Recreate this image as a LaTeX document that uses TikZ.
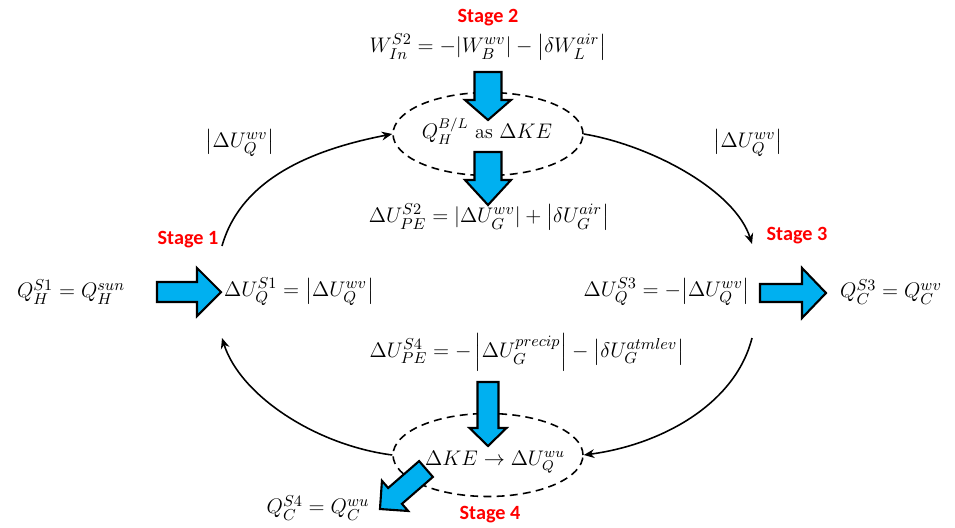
\documentclass[tikz,border=0pt]{standalone}
\usepackage{amsmath}
\usepackage{fontspec}
\newfontfamily\stagefont{Carlito}
\usetikzlibrary{
  arrows.meta,     % Stealth arrow tips
  shapes.geometric,% ellipse nodes
  positioning,
  calc
}
\definecolor{arrowblue}{RGB}{0,176,240}
\definecolor{stagered}{RGB}{255,0,0}

% block arrow: tail point, angle, length, head length, shaft half width, head half width
\newcommand{\fatarrow}[6]{%
  \draw[fat, shift={#1}, rotate=#2] (0,-#5) -- ({#3-#4},-#5) -- ({#3-#4},-#6) -- (#3,0)
    -- ({#3-#4},#6) -- ({#3-#4},#5) -- (0,#5) -- cycle;}

\begin{document}
\begin{tikzpicture}[>={Stealth[length=6pt,width=5pt]}, x=0.02cm, y=-0.02cm, % one unit = one pixel of the 955x527 sheet
  eq/.style={font=\fontsize{13}{15}\selectfont, inner sep=1pt},
  ineq/.style={font=\fontsize{11.5}{13}\selectfont, inner sep=1pt},
  stage/.style={text=stagered, font=\stagefont\bfseries\fontsize{11.5}{13}\selectfont, inner sep=1pt},
  cycleell/.style={draw, ellipse, dash pattern=on 4.5pt off 3pt, line width=0.9pt, minimum width=3.8cm, minimum height=1.66cm, inner sep=0pt},
  flow/.style={->, line width=0.9pt},
  fat/.style={draw=black, fill=arrowblue, line width=1.2pt, line join=miter}]

  \useasboundingbox (0,0) rectangle (955,527);

  % =============== dashed stage ellipses ===============
  \node[cycleell] (topell) at (488,134) {};
  \node[cycleell] (botell) at (488,455) {};

  % =============== blue block arrows ===============
  \fatarrow{(488,72)}{-90}{48}{20}{13.5}{23}
  \fatarrow{(488,152)}{-90}{53}{25}{13.5}{23}
  \fatarrow{(488,382)}{-90}{64}{18}{10.5}{18.5}
  \fatarrow{(157,292)}{0}{64}{24}{10}{24}
  \fatarrow{(760,293)}{0}{66}{24}{9}{25}
  \fatarrow{(426,469)}{221}{61}{20}{10.5}{20}

  % =============== Stage 2 (top) ===============
  \node[stage] (st2) at (488,18) {Stage 2};
  \node[eq] (win) at (488,47) {$W_{In}^{S2} = -|W_B^{wv}| - \bigl|\delta W_L^{air}\bigr|$};
  \node[ineq] (qbl) at (487,131) {$Q_H^{B/L}$ as $\Delta KE$};
  \node[eq] (dupe2) at (489,217) {$\Delta U_{PE}^{S2} = |\Delta U_G^{wv}| + \bigl|\delta U_G^{air}\bigr|$};
  \node[eq] (lblL) at (240,143) {$\bigl|\Delta U_Q^{wv}\bigr|$};
  \node[eq] (lblR) at (748,143) {$\bigl|\Delta U_Q^{wv}\bigr|$};

  % =============== Stage 1 and Stage 3 (sides) ===============
  \node[stage] (st1) at (188,240) {Stage 1};
  \node[stage] (st3) at (797,236) {Stage 3};
  \node[eq] (qsun) at (71,292) {$Q_H^{S1} = Q_H^{sun}$};
  \node[eq, anchor=west] (du1) at (222,292) {$\Delta U_Q^{S1} = \bigl|\Delta U_Q^{wv}\bigr|$};
  \node[eq, anchor=east] (du3) at (752,292) {$\Delta U_Q^{S3} = -\bigl|\Delta U_Q^{wv}\bigr|$};
  \node[eq] (qwv) at (891,292) {$Q_C^{S3} = Q_C^{wv}$};

  % =============== Stage 4 (bottom) ===============
  \node[eq] (dupe4) at (527,352) {$\Delta U_{PE}^{S4} = -\left|\Delta U_G^{precip}\right| - \left|\delta U_G^{atmlev}\right|$};
  \node[ineq] (ke) at (495,462) {$\Delta KE \rightarrow \Delta U_Q^{wu}$};
  \node[eq] (qwu) at (318,508) {$Q_C^{S4} = Q_C^{wu}$};
  \node[stage] (st4) at (490,515) {Stage 4};

  % =============== cycle connectors ===============
  \coordinate (s1top) at (222,246);
  \coordinate (s3top) at (752,244);
  \coordinate (s3bot) at (752,338);
  \coordinate (s1bot) at (222,338);
  \draw[flow] (s1top) .. controls (242,175) and (320,148) .. (topell.west);
  \draw[flow] (topell.east) .. controls (650,145) and (735,190) .. (s3top);
  \draw[flow] (s3bot) .. controls (735,405) and (660,445) .. (botell.east);
  \draw[flow] (botell.west) .. controls (315,445) and (240,395) .. (s1bot);

\end{tikzpicture}
\end{document}
